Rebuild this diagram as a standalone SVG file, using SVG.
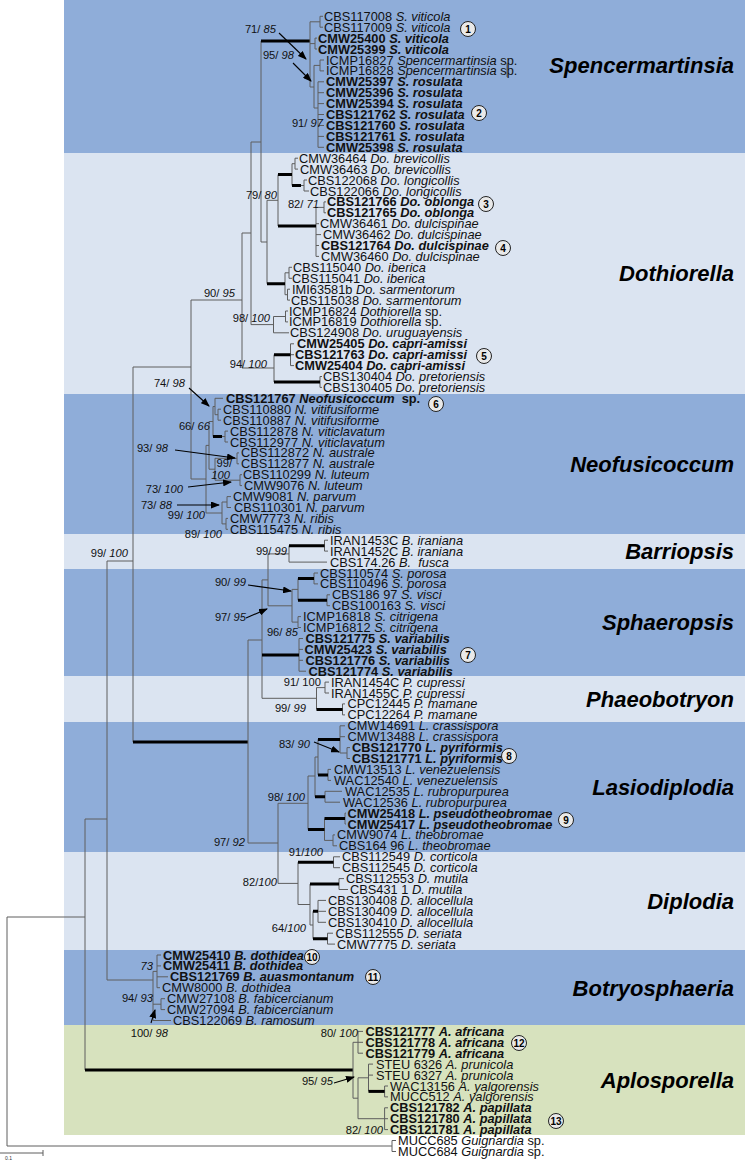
<svg xmlns="http://www.w3.org/2000/svg" width="745" height="1161" viewBox="0 0 745 1161">
<style>
.l{font-family:"Liberation Sans",Arial,sans-serif;font-size:12.8px;fill:#111}
.b{font-weight:bold}
.i{font-style:italic}
.s{font-family:"Liberation Sans",Arial,sans-serif;font-size:11.2px;fill:#111;text-anchor:end}
.c{font-family:"Liberation Sans",Arial,sans-serif;font-size:22px;font-weight:bold;font-style:italic;fill:#000;text-anchor:end}
.t{fill:none;stroke:#5e5e5e;stroke-width:1}
.k{fill:none;stroke:#000;stroke-width:3}
.ar{fill:none;stroke:#000;stroke-width:1.1;marker-end:url(#ah)}
.cn circle{fill:#e9e9e9;stroke:#222;stroke-width:1}
.cn text{font-family:"Liberation Sans",Arial,sans-serif;font-size:10px;font-weight:bold;text-anchor:middle;fill:#000}
</style>
<defs>
<marker id="ah" markerUnits="userSpaceOnUse" markerWidth="9" markerHeight="7" refX="8" refY="3.5" orient="auto"><path d="M0,0 L9,3.5 L0,7 z" fill="#000"/></marker>
</defs>
<rect width="745" height="1161" fill="#fff"/>
<g id="bands">
<rect x="64" y="0" width="681" height="153" fill="#8fadd9"/>
<rect x="64" y="153" width="681" height="241" fill="#dbe4f1"/>
<rect x="64" y="394" width="681" height="140" fill="#8fadd9"/>
<rect x="64" y="534" width="681" height="35" fill="#dbe4f1"/>
<rect x="64" y="569" width="681" height="107" fill="#8fadd9"/>
<rect x="64" y="676" width="681" height="46" fill="#dbe4f1"/>
<rect x="64" y="722" width="681" height="130" fill="#8fadd9"/>
<rect x="64" y="852" width="681" height="98" fill="#dbe4f1"/>
<rect x="64" y="950" width="681" height="75" fill="#8fadd9"/>
<rect x="64" y="1025" width="681" height="110" fill="#d7e2be"/>
</g>
<g id="clade-labels">
<text id="lab-spencermartinsia" class="c" x="734" y="73">Spencermartinsia</text>
<text id="lab-dothiorella" class="c" x="734" y="281">Dothiorella</text>
<text id="lab-neofusicoccum" class="c" x="734" y="472">Neofusicoccum</text>
<text id="lab-barriopsis" class="c" x="734" y="559">Barriopsis</text>
<text id="lab-sphaeropsis" class="c" x="734" y="630">Sphaeropsis</text>
<text id="lab-phaeobotryon" class="c" x="734" y="707">Phaeobotryon</text>
<text id="lab-lasiodiplodia" class="c" x="734" y="795">Lasiodiplodia</text>
<text id="lab-diplodia" class="c" x="734" y="909">Diplodia</text>
<text id="lab-botryosphaeria" class="c" x="734" y="996">Botryosphaeria</text>
<text id="lab-aplosporella" class="c" x="734" y="1088">Aplosporella</text>
</g>
<g id="connectors">
<path class="t" d="M7 917V1146M7 917H85M7 1146H392M392 1140.5V1151.5M392 1140.5H396M392 1151.5H396"/>
<path class="t" d="M85 819V1070M85 819H107M107 561V980M107 561H133M107 980H153M133 367V742M133 367H191"/>
<path class="k" d="M85 1070H353M133 742H248"/>
<path class="t" d="M191 300V479M191 300H242M191 479H206M242 233V368M242 233H251M242 368H274M251 142V324.6M251 142H261M251 324.6H273.5M261 41V242M261 242H267"/>
<path class="k" d="M261 41H310"/>
<path class="t" d="M310 21.8V87M310 21.8H320M320 16.3V27.2M320 16.3H323M320 27.2H323M310 43.6H315M315 38.1V49M315 38.1H317M315 49H317M310 87H314M314 65.4V108M314 65.4H320M320 60V70.9M320 60H324M320 70.9H324M314 108H318M318 81.8V147.3M318 81.8H324M318 92.7H324M318 103.6H324M318 114.5H324M318 125.5H324M318 136.4H324M318 147.3H324M507 63V77"/>
<path class="t" d="M267 200.3V283.7M267 200.3H278M278 174.6V226M292 163.7V185.5M292 163.7H295M295 158.2V169.1M295 158.2H298M295 169.1H298M301 185.5H304M304 180V191M304 180H307M304 191H309M316 207.4V256.4M316 207.4H324M324 201.9V212.8M324 201.9H326M324 212.8H326M316 223.7H319M316 234.6H321M316 245.5H319M316 256.4H319M285 272.8V294.7M285 272.8H289M289 267.3V278.3M289 267.3H292M289 278.3H292M285 294.7H287.5M287.5 289.2V300.1M287.5 289.2H290M287.5 300.1H290M273.5 316.5V332.8M273.5 316.5H285.5M285.5 311V321.9M285.5 311H288M285.5 321.9H288M273.5 332.8H289M274 354.7V382M290.5 343.8V365.6M290.5 343.8H294M290.5 354.7H294M290.5 365.6H294M320 376.5V387.4M320 376.5H322M320 387.4H322"/>
<path class="k" d="M278 174.6H292M278 226H316M292 185.5H301M267 283.7H285M274 354.7H290.5M274 382H320"/>
<path class="t" d="M206 445.4V513M206 445.4H209M209 421.5V469.2M209 421.5H213M209 469.2H215M213 406.5V436.5M213 406.5H215M222 436.5H225M225 431.1V442M225 431.1H228M225 442H228M215 398.3V414.7M215 398.3H223M215 414.7H218M218 409.2V420.2M218 409.2H221M218 420.2H221M215 458.3V480.2M215 458.3H237M237 452.9V463.8M237 452.9H239M237 463.8H239M215 480.2H240M240 474.7V485.6M240 474.7H242M240 485.6H242M206 513H222M222 502V523.9M222 502H227M227 496.6V507.5M227 496.6H231M227 507.5H231M222 523.9H226M226 518.4V529.3M226 518.4H228M226 529.3H228"/>
<path class="k" d="M213 436.5H222"/>
<path class="t" d="M248 640V843M248 640H262M248 843H278M262 579.9V698.3M262 579.9H268M262 698.3H316.5M268 553.9V605.8M268 553.9H289M268 605.8H292M289 545.7V562.1M324.5 540.2V551.1M324.5 540.2H328M324.5 551.1H328M289 562.1H327M292 589.4V622.1M292 589.4H298M292 622.1H298M298 578.5V600.2M314 573V583.9M314 573H318M314 583.9H318M327 594.8V605.7M327 594.8H330M327 605.7H330M298 616.6V627.5M298 616.6H301M298 627.5H301M299 638.5V671.2M299 638.5H303M299 649.4H303M299 660.3H303M299 671.2H306M316.5 687.6V709.4M316.5 687.6H325M325 682.1V693M325 682.1H329M325 693H329M342.5 703.9V714.9M342.5 703.9H345M342.5 714.9H345"/>
<path class="k" d="M289 545.7H324.5M298 578.5H314M298 600.2H327M262 655H299M316.5 709.4H342.5"/>
<path class="t" d="M278 803.3V883.4M278 803.3H308M278 883.4H298M308 776V829.5M308 776H315M315 757V796.7M315 757H318M318 739.4V774.9M328 769.4V780.4M328 769.4H331M328 780.4H331M340 725.8V753M340 725.8H345M340 736.7H345M340 753H347M347 747.6V758.5M347 747.6H350M347 758.5H350M325 791.3V802.2M325 791.3H342M325 802.2H340M324.5 818.6V840.4M345 813.1V824M345 813.1H346M345 824H346M324.5 840.4H333M333 834.9V845.8M333 834.9H335M333 845.8H337M298 862.3V904.5M333.5 856.8V867.7M333.5 856.8H340M333.5 867.7H340M298 904.5H310M310 884.1V925M339 878.6V889.5M339 878.6H344M339 889.5H348M310 925H313M313 911.3V938.7M318 900.4V922.3M318 900.4H326M318 911.3H326M318 922.3H326M327.5 933.2V944.1M327.5 933.2H333M327.5 944.1H335"/>
<path class="k" d="M308 829.5H324.5M315 796.7H325M318 739.4H340M318 774.9H328M324.5 818.6H345M298 862.3H333.5M310 884.1H339M313 911.3H318M313 938.7H327.5"/>
<path class="t" d="M153 971.4V1020.5M153 971.4H157M157 955V987.7M157 955H161M157 965.9H161M157 976.8H168M157 987.7H160M153 1004.2H161M161 998.7V1009.6M161 998.7H165M161 1009.6H165M153 1020.5H171"/>
<path class="t" d="M353 1042.3V1098.2M353 1042.3H358M358 1031.4V1053.2M358 1031.4H363M358 1042.3H363M358 1053.2H363M353 1098.2H358M358 1077.8V1118.7M358 1077.8H368.5M358 1118.7H384.6M368.5 1064.1V1091.4M368.5 1064.1H373M368.5 1075.1H373M384.6 1086V1096.9M384.6 1086H388M384.6 1096.9H388M384.6 1107.8V1129.6M384.6 1107.8H388M384.6 1118.7H388M384.6 1129.6H388"/>
<path class="k" d="M368.5 1091.4H384.6"/>
<path class="ar" d="M279 33L306 59"/>
<path class="ar" d="M293 63L311 81"/>
<path class="ar" d="M189 388L209 406"/>
<path class="ar" d="M175 450L235 458"/>
<path class="ar" d="M188 487L231 482"/>
<path class="ar" d="M177 505L219 505"/>
<path class="ar" d="M248 585L291 591"/>
<path class="ar" d="M246 618L267 609"/>
<path class="ar" d="M314 742L339 752"/>
<path class="ar" d="M151 1023L155 1010"/>
<path class="ar" d="M334 1083L354 1077"/>
<path class="t" d="M0 1153H43M43 1150V1156"/>
</g>
<g id="support">
<text class="s" x="276" y="33">71/ <tspan class="i">85</tspan></text>
<text class="s" x="294" y="59">95/ <tspan class="i">98</tspan></text>
<text class="s" x="323" y="127">91/ <tspan class="i">97</tspan></text>
<text class="s" x="277" y="199">79/ <tspan class="i">80</tspan></text>
<text class="s" x="319" y="208">82/ <tspan class="i">71</tspan></text>
<text class="s" x="235" y="297">90/ <tspan class="i">95</tspan></text>
<text class="s" x="270" y="322">98/ <tspan class="i">100</tspan></text>
<text class="s" x="267" y="368">94/ <tspan class="i">100</tspan></text>
<text class="s" x="185" y="387">74/ <tspan class="i">98</tspan></text>
<text class="s" x="210" y="430">66/ <tspan class="i">66</tspan></text>
<text class="s" x="168" y="452">93/ <tspan class="i">98</tspan></text>
<text class="s" x="232" y="467">99/</text>
<text class="s i" x="230" y="479">100</text>
<text class="s" x="183" y="493">73/ <tspan class="i">100</tspan></text>
<text class="s" x="172" y="509">73/ <tspan class="i">88</tspan></text>
<text class="s" x="205" y="519">99/ <tspan class="i">100</tspan></text>
<text class="s" x="222" y="538">89/ <tspan class="i">100</tspan></text>
<text class="s" x="128" y="557">99/ <tspan class="i">100</tspan></text>
<text class="s" x="287" y="555">99/ <tspan class="i">99</tspan></text>
<text class="s" x="246" y="586">90/ <tspan class="i">99</tspan></text>
<text class="s" x="246" y="621">97/ <tspan class="i">95</tspan></text>
<text class="s" x="298" y="636">96/ <tspan class="i">85</tspan></text>
<text class="s" x="321" y="686">91/ 100</text>
<text class="s" x="306" y="712">99/ <tspan class="i">99</tspan></text>
<text class="s" x="310" y="748">83/ <tspan class="i">90</tspan></text>
<text class="s" x="305" y="801">98/ <tspan class="i">100</tspan></text>
<text class="s" x="245" y="846">97/ <tspan class="i">92</tspan></text>
<text class="s" x="323" y="856">91/<tspan class="i">100</tspan></text>
<text class="s" x="277" y="886">82/<tspan class="i">100</tspan></text>
<text class="s" x="306" y="932">64/<tspan class="i">100</tspan></text>
<text class="s i" x="153" y="970">73</text>
<text class="s" x="153" y="1002">94/ <tspan class="i">93</tspan></text>
<text class="s" x="168" y="1037">100/ <tspan class="i">98</tspan></text>
<text class="s" x="358" y="1037">80/ <tspan class="i">100</tspan></text>
<text class="s" x="333" y="1085">95/ <tspan class="i">95</tspan></text>
<text class="s" x="383" y="1134">82/ <tspan class="i">100</tspan></text>
<text x="5" y="1160" style="font-family:'Liberation Sans',Arial,sans-serif;font-size:5px;fill:#333">0.1</text>
</g>
<g id="spencermartinsia">
<text class="l" x="324" y="20.8">CBS117008 <tspan class="i">S. viticola</tspan></text>
<text class="l" x="324" y="31.7">CBS117009 <tspan class="i">S. viticola</tspan></text>
<text class="l b" x="318" y="42.6">CMW25400 <tspan class="i">S. viticola</tspan></text>
<text class="l b" x="318" y="53.5">CMW25399 <tspan class="i">S. viticola</tspan></text>
<text class="l" x="326" y="64.5">ICMP16827 <tspan class="i">Spencermartinsia</tspan> sp.</text>
<text class="l" x="326" y="75.4">ICMP16828 <tspan class="i">Spencermartinsia</tspan> sp.</text>
<text class="l b" x="326" y="86.3">CMW25397 <tspan class="i">S. rosulata</tspan></text>
<text class="l b" x="326" y="97.2">CMW25396 <tspan class="i">S. rosulata</tspan></text>
<text class="l b" x="326" y="108.1">CMW25394 <tspan class="i">S. rosulata</tspan></text>
<text class="l b" x="326" y="119">CBS121762 <tspan class="i">S. rosulata</tspan></text>
<text class="l b" x="326" y="130">CBS121760 <tspan class="i">S. rosulata</tspan></text>
<text class="l b" x="326" y="140.9">CBS121761 <tspan class="i">S. rosulata</tspan></text>
<text class="l b" x="326" y="151.8">CMW25398 <tspan class="i">S. rosulata</tspan></text>
</g>
<g id="dothiorella">
<text class="l" x="299" y="162.7">CMW36464 <tspan class="i">Do. brevicollis</tspan></text>
<text class="l" x="300" y="173.6">CMW36463 <tspan class="i">Do. brevicollis</tspan></text>
<text class="l" x="308" y="184.5">CBS122068 <tspan class="i">Do. longicollis</tspan></text>
<text class="l" x="310" y="195.5">CBS122066 <tspan class="i">Do. longicollis</tspan></text>
<text class="l b" x="327" y="206.4">CBS121766 <tspan class="i">Do. oblonga</tspan></text>
<text class="l b" x="327" y="217.3">CBS121765 <tspan class="i">Do. oblonga</tspan></text>
<text class="l" x="320" y="228.2">CMW36461 <tspan class="i">Do. dulcispinae</tspan></text>
<text class="l" x="323" y="239.1">CMW36462 <tspan class="i">Do. dulcispinae</tspan></text>
<text class="l b" x="321" y="250">CBS121764 <tspan class="i">Do. dulcispinae</tspan></text>
<text class="l" x="321" y="260.9">CMW36460 <tspan class="i">Do. dulcispinae</tspan></text>
<text class="l" x="293" y="271.8">CBS115040 <tspan class="i">Do. iberica</tspan></text>
<text class="l" x="292" y="282.8">CBS115041 <tspan class="i">Do. iberica</tspan></text>
<text class="l" x="292" y="293.7">IMI63581b <tspan class="i">Do. sarmentorum</tspan></text>
<text class="l" x="291" y="304.6">CBS115038 <tspan class="i">Do. sarmentorum</tspan></text>
<text class="l" x="289" y="315.5">ICMP16824 <tspan class="i">Dothiorella</tspan> sp.</text>
<text class="l" x="289" y="326.4">ICMP16819 <tspan class="i">Dothiorella</tspan> sp.</text>
<text class="l" x="290" y="337.3">CBS124908 <tspan class="i">Do. uruguayensis</tspan></text>
<text class="l b" x="297" y="348.3">CMW25405 <tspan class="i">Do. capri-amissi</tspan></text>
<text class="l b" x="295" y="359.2">CBS121763 <tspan class="i">Do. capri-amissi</tspan></text>
<text class="l b" x="295" y="370.1">CMW25404 <tspan class="i">Do. capri-amissi</tspan></text>
<text class="l" x="323" y="381">CBS130404 <tspan class="i">Do. pretoriensis</tspan></text>
<text class="l" x="323" y="391.9">CBS130405 <tspan class="i">Do. pretoriensis</tspan></text>
</g>
<g id="neofusicoccum">
<text class="l b" x="226" y="402.8">CBS121767 <tspan class="i">Neofusicoccum</tspan>&#160; sp.</text>
<text class="l" x="223" y="413.7">CBS110880 <tspan class="i">N. vitifusiforme</tspan></text>
<text class="l" x="223" y="424.7">CBS110887 <tspan class="i">N. vitifusiforme</tspan></text>
<text class="l" x="230" y="435.6">CBS112878 <tspan class="i">N. viticlavatum</tspan></text>
<text class="l" x="230" y="446.5">CBS112977 <tspan class="i">N. viticlavatum</tspan></text>
<text class="l" x="241" y="457.4">CBS112872 <tspan class="i">N. australe</tspan></text>
<text class="l" x="241" y="468.3">CBS112877 <tspan class="i">N. australe</tspan></text>
<text class="l" x="243" y="479.2">CBS110299 <tspan class="i">N. luteum</tspan></text>
<text class="l" x="244" y="490.1">CMW9076 <tspan class="i">N. luteum</tspan></text>
<text class="l" x="233" y="501.1">CMW9081 <tspan class="i">N. parvum</tspan></text>
<text class="l" x="234" y="512">CBS110301 <tspan class="i">N. parvum</tspan></text>
<text class="l" x="230" y="522.9">CMW7773 <tspan class="i">N. ribis</tspan></text>
<text class="l" x="230" y="533.8">CBS115475 <tspan class="i">N. ribis</tspan></text>
</g>
<g id="barriopsis">
<text class="l" x="330" y="544.7">IRAN1453C <tspan class="i">B. iraniana</tspan></text>
<text class="l" x="330" y="555.6">IRAN1452C <tspan class="i">B. iraniana</tspan></text>
<text class="l" x="330" y="566.6">CBS174.26 <tspan class="i">B.&#160; fusca</tspan></text>
</g>
<g id="sphaeropsis">
<text class="l" x="320" y="577.5">CBS110574 <tspan class="i">S. porosa</tspan></text>
<text class="l" x="320" y="588.4">CBS110496 <tspan class="i">S. porosa</tspan></text>
<text class="l" x="332" y="599.3">CBS186 97 <tspan class="i">S. visci</tspan></text>
<text class="l" x="332" y="610.2">CBS100163 <tspan class="i">S. visci</tspan></text>
<text class="l" x="303" y="621.1">ICMP16818 <tspan class="i">S. citrigena</tspan></text>
<text class="l" x="303" y="632">ICMP16812 <tspan class="i">S. citrigena</tspan></text>
<text class="l b" x="305.5" y="643">CBS121775 <tspan class="i">S. variabilis</tspan></text>
<text class="l b" x="304.5" y="653.9">CMW25423 <tspan class="i">S. variabilis</tspan></text>
<text class="l b" x="305.5" y="664.8">CBS121776 <tspan class="i">S. variabilis</tspan></text>
<text class="l b" x="308.5" y="675.7">CBS121774 <tspan class="i">S. variabilis</tspan></text>
</g>
<g id="phaeobotryon">
<text class="l" x="331" y="686.6">IRAN1454C <tspan class="i">P. cupressi</tspan></text>
<text class="l" x="331" y="697.5">IRAN1455C <tspan class="i">P. cupressi</tspan></text>
<text class="l" x="347.5" y="708.4">CPC12445 <tspan class="i">P. mamane</tspan></text>
<text class="l" x="347.5" y="719.4">CPC12264 <tspan class="i">P. mamane</tspan></text>
</g>
<g id="lasiodiplodia">
<text class="l" x="347.5" y="730.3">CMW14691 <tspan class="i">L. crassispora</tspan></text>
<text class="l" x="347.5" y="741.2">CMW13488 <tspan class="i">L. crassispora</tspan></text>
<text class="l b" x="352" y="752.1">CBS121770 <tspan class="i">L. pyriformis</tspan></text>
<text class="l b" x="352" y="763">CBS121771 <tspan class="i">L. pyriformis</tspan></text>
<text class="l" x="334" y="773.9">CMW13513 <tspan class="i">L. venezuelensis</tspan></text>
<text class="l" x="334" y="784.9">WAC12540 <tspan class="i">L. venezuelensis</tspan></text>
<text class="l" x="345" y="795.8">WAC12535 <tspan class="i">L. rubropurpurea</tspan></text>
<text class="l" x="343" y="806.7">WAC12536 <tspan class="i">L. rubropurpurea</tspan></text>
<text class="l b" x="347.5" y="817.6">CMW25418 <tspan class="i">L. pseudotheobromae</tspan></text>
<text class="l b" x="347.5" y="828.5">CMW25417 <tspan class="i">L. pseudotheobromae</tspan></text>
<text class="l" x="337" y="839.4">CMW9074 <tspan class="i">L. theobromae</tspan></text>
<text class="l" x="339" y="850.3">CBS164 96 <tspan class="i">L. theobromae</tspan></text>
</g>
<g id="diplodia">
<text class="l" x="342" y="861.3">CBS112549 <tspan class="i">D. corticola</tspan></text>
<text class="l" x="342" y="872.2">CBS112545 <tspan class="i">D. corticola</tspan></text>
<text class="l" x="346" y="883.1">CBS112553 <tspan class="i">D. mutila</tspan></text>
<text class="l" x="350" y="894">CBS431 1 <tspan class="i">D. mutila</tspan></text>
<text class="l" x="328" y="904.9">CBS130408 <tspan class="i">D. allocellula</tspan></text>
<text class="l" x="328" y="915.8">CBS130409 <tspan class="i">D. allocellula</tspan></text>
<text class="l" x="328" y="926.8">CBS130410 <tspan class="i">D. allocellula</tspan></text>
<text class="l" x="335.5" y="937.7">CBS112555 <tspan class="i">D. seriata</tspan></text>
<text class="l" x="337" y="948.6">CMW7775 <tspan class="i">D. seriata</tspan></text>
</g>
<g id="botryosphaeria">
<text class="l b" x="163" y="959.5">CMW25410 <tspan class="i">B. dothidea</tspan></text>
<text class="l b" x="163" y="970.4">CMW25411 <tspan class="i">B. dothidea</tspan></text>
<text class="l b" x="170" y="981.3">CBS121769 <tspan class="i">B. auasmontanum</tspan></text>
<text class="l" x="162" y="992.2">CMW8000 <tspan class="i">B. dothidea</tspan></text>
<text class="l" x="167" y="1003.2">CMW27108 <tspan class="i">B. fabicercianum</tspan></text>
<text class="l" x="167" y="1014.1">CMW27094 <tspan class="i">B. fabicercianum</tspan></text>
<text class="l" x="173" y="1025">CBS122069 <tspan class="i">B. ramosum</tspan></text>
</g>
<g id="aplosporella">
<text class="l b" x="365.5" y="1035.9">CBS121777 <tspan class="i">A. africana</tspan></text>
<text class="l b" x="365.5" y="1046.8">CBS121778 <tspan class="i">A. africana</tspan></text>
<text class="l b" x="365.5" y="1057.7">CBS121779 <tspan class="i">A. africana</tspan></text>
<text class="l" x="376" y="1068.6">STEU 6326 <tspan class="i">A. prunicola</tspan></text>
<text class="l" x="376" y="1079.6">STEU 6327 <tspan class="i">A. prunicola</tspan></text>
<text class="l" x="390" y="1090.5">WAC13156 <tspan class="i">A. yalgorensis</tspan></text>
<text class="l" x="390" y="1101.4">MUCC512 <tspan class="i">A. yalgorensis</tspan></text>
<text class="l b" x="390" y="1112.3">CBS121782 <tspan class="i">A. papillata</tspan></text>
<text class="l b" x="390" y="1123.2">CBS121780 <tspan class="i">A. papillata</tspan></text>
<text class="l b" x="390" y="1134.1">CBS121781 <tspan class="i">A. papillata</tspan></text>
</g>
<g id="outgroup">
<text class="l" x="398" y="1145">MUCC685 <tspan class="i">Guignardia</tspan> sp.</text>
<text class="l" x="398" y="1156">MUCC684 <tspan class="i">Guignardia</tspan> sp.</text>
</g>
<g id="markers" class="cn">
<g id="m1"><circle cx="468" cy="29" r="7.5"/><text x="468" y="32.5">1</text></g>
<g id="m2"><circle cx="479" cy="113" r="7.5"/><text x="479" y="116.5">2</text></g>
<g id="m3"><circle cx="486" cy="204" r="7.5"/><text x="486" y="207.5">3</text></g>
<g id="m4"><circle cx="503" cy="248" r="7.5"/><text x="503" y="251.5">4</text></g>
<g id="m5"><circle cx="484" cy="356" r="7.5"/><text x="484" y="359.5">5</text></g>
<g id="m6"><circle cx="436" cy="404" r="7.5"/><text x="436" y="407.5">6</text></g>
<g id="m7"><circle cx="468" cy="655" r="7.5"/><text x="468" y="658.5">7</text></g>
<g id="m8"><circle cx="509" cy="756" r="7.5"/><text x="509" y="759.5">8</text></g>
<g id="m9"><circle cx="566" cy="820" r="7.5"/><text x="566" y="823.5">9</text></g>
<g id="m10"><circle cx="312" cy="957" r="7.5"/><text x="312" y="960.5">10</text></g>
<g id="m11"><circle cx="373" cy="977" r="7.5"/><text x="373" y="980.5">11</text></g>
<g id="m12"><circle cx="519" cy="1043" r="7.5"/><text x="519" y="1046.5">12</text></g>
<g id="m13"><circle cx="556" cy="1121" r="7.5"/><text x="556" y="1124.5">13</text></g>
</g>
</svg>
